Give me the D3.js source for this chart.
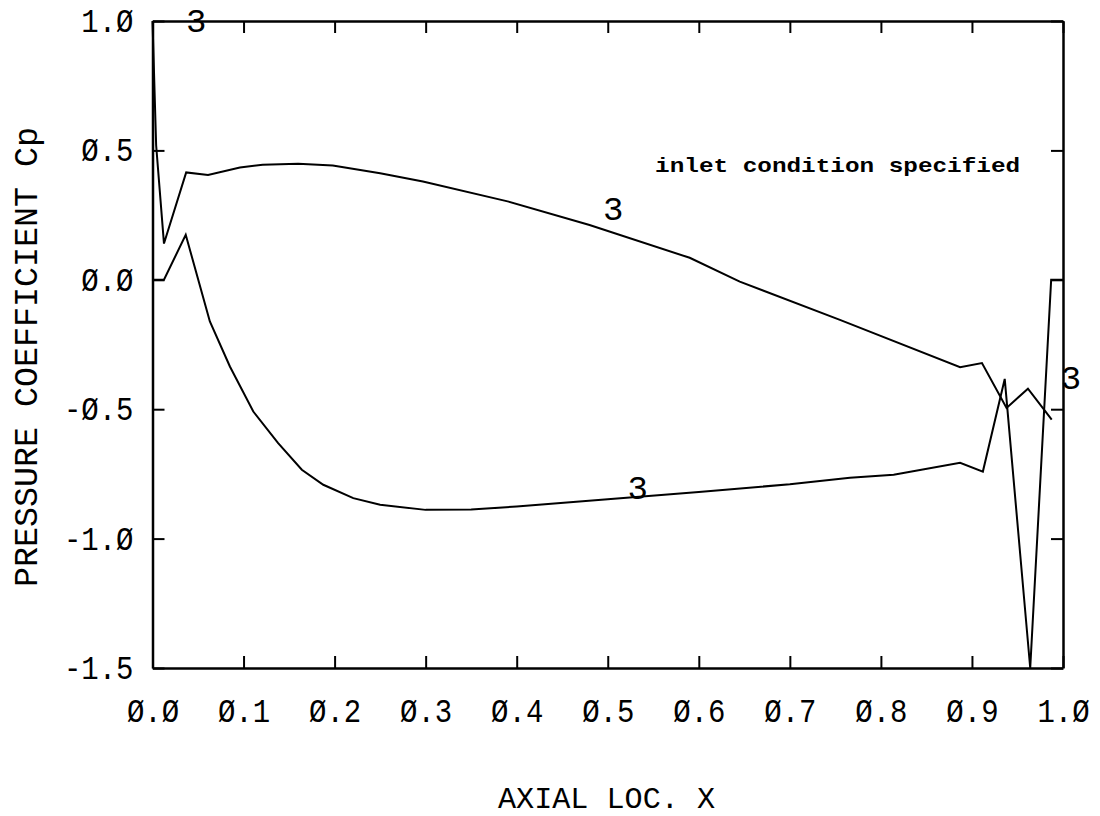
<!DOCTYPE html>
<meta charset="utf-8">
<script src="https://d3js.org/d3.v7.min.js"></script>
<style>
  body { margin: 0; background: #fff; }
  text { font-family: "Liberation Mono", "DejaVu Sans Mono", monospace; fill: #000; }
</style>
<div id="chart"></div>
<script>

// tick values
const xTicks = [0, 0.1, 0.2, 0.3, 0.4, 0.5, 0.6, 0.7, 0.8, 0.9, 1.0];
const yTicks = [-1.5, -1.0, -0.5, 0.0, 0.5, 1.0];

// upper Cp curve
const upperX  = [0, 0.004, 0.0126, 0.037, 0.061, 0.096, 0.121, 0.16, 0.198, 0.25, 0.297, 0.39, 0.48, 0.59, 0.645, 0.755, 0.887, 0.911, 0.938, 0.9615, 0.9876];
const upperCp = [1.0, 0.52, 0.14, 0.415, 0.405, 0.434, 0.445, 0.448, 0.442, 0.412, 0.38, 0.303, 0.212, 0.085, -0.007, -0.155, -0.338, -0.322, -0.495, -0.421, -0.54];

// lower Cp curve
const lowerX  = [0, 0.0126, 0.0365, 0.063, 0.085, 0.1107, 0.138, 0.164, 0.1876, 0.2205, 0.25, 0.3, 0.35, 0.4, 0.5, 0.6, 0.7, 0.766, 0.814, 0.887, 0.912, 0.936, 0.964, 0.987, 1.0];
const lowerCp = [0, 0, 0.174, -0.161, -0.335, -0.509, -0.631, -0.734, -0.792, -0.8435, -0.869, -0.889, -0.888, -0.876, -0.848, -0.82, -0.79, -0.765, -0.753, -0.707, -0.741, -0.383, -1.5, 0.0, 0.0];

// curve labels "3"
const labelX  = [0.048, 0.506, 0.533, 1.0088];
const labelCp = [0.958, 0.232, -0.846, -0.421];

const width = 1100, height = 816;
const margin = {top: 21, right: 37, bottom: 148, left: 152.5};

const svg = d3.select("#chart")
  .append("svg")
    .attr("width", width)
    .attr("height", height);

svg.append("rect").attr("width", width).attr("height", height).attr("fill", "#fff");

const x = d3.scaleLinear().domain([0, 1]).range([margin.left, width - margin.right]);
const y = d3.scaleLinear().domain([-1.5, 1]).range([height - margin.bottom, margin.top]);

const fmt = v => d3.format(".1f")(v).replace(/0/g, "Ø").replace("−", "-");
const charW = 17.4;

// axes, ticks pointing inward
svg.append("g")
  .attr("transform", `translate(0,${y(-1.5)})`)
  .call(d3.axisBottom(x).tickValues(xTicks).tickFormat(fmt).tickSizeInner(-12).tickSizeOuter(0).tickPadding(31));
svg.append("g")
  .attr("transform", `translate(${x(0)},0)`)
  .call(d3.axisLeft(y).tickValues(yTicks).tickFormat(fmt).tickSizeInner(-12).tickSizeOuter(0).tickPadding(19));
svg.append("g")
  .attr("transform", `translate(0,${y(1)})`)
  .call(d3.axisTop(x).tickValues(xTicks).tickFormat("").tickSizeInner(-12).tickSizeOuter(0));
svg.append("g")
  .attr("transform", `translate(${x(1)},0)`)
  .call(d3.axisRight(y).tickValues(yTicks).tickFormat("").tickSizeInner(-12).tickSizeOuter(0));

svg.selectAll(".domain").attr("stroke", "#000").attr("stroke-width", 2.5);
svg.selectAll(".tick line").attr("stroke", "#000").attr("stroke-width", 2);
svg.selectAll(".tick text")
  .attr("font-size", 33)
  .attr("font-family", "Liberation Mono")
  .attr("fill", "#000")
  .attr("textLength", function() { return this.textContent.length * charW; })
  .attr("lengthAdjust", "spacingAndGlyphs");

// curves
const line = d3.line().x(d => x(d[0])).y(d => y(d[1]));
const upper = upperX.map((v, i) => [v, upperCp[i]]);
const lower = lowerX.map((v, i) => [v, lowerCp[i]]);

[upper, lower].forEach(s => {
  svg.append("path")
    .datum(s)
    .attr("fill", "none")
    .attr("stroke", "#000")
    .attr("stroke-width", 2)
    .attr("d", line);
});

// curve labels
svg.selectAll(".lbl")
  .data(labelX)
  .enter()
  .append("text")
    .attr("class", "lbl")
    .attr("x", d => x(d))
    .attr("y", (d, i) => y(labelCp[i]))
    .attr("text-anchor", "middle")
    .attr("font-size", 34)
    .text("3");

// annotation
svg.append("text")
  .attr("x", x(0.552))
  .attr("y", y(0.417))
  .attr("font-family", "Liberation Mono")
  .attr("font-weight", "bold")
  .attr("font-size", 21)
  .attr("textLength", 365)
  .attr("lengthAdjust", "spacingAndGlyphs")
  .text("inlet condition specified");

// axis titles
svg.append("text")
  .attr("x", 606.5)
  .attr("y", 808)
  .attr("text-anchor", "middle")
  .attr("font-size", 29)
  .attr("textLength", 217)
  .attr("lengthAdjust", "spacingAndGlyphs")
  .text("AXIAL LOC. X");

svg.append("text")
  .attr("transform", "translate(37,357) rotate(-90)")
  .attr("text-anchor", "middle")
  .attr("font-size", 33)
  .attr("textLength", 460)
  .attr("lengthAdjust", "spacingAndGlyphs")
  .text("PRESSURE COEFFICIENT Cp");

</script>
